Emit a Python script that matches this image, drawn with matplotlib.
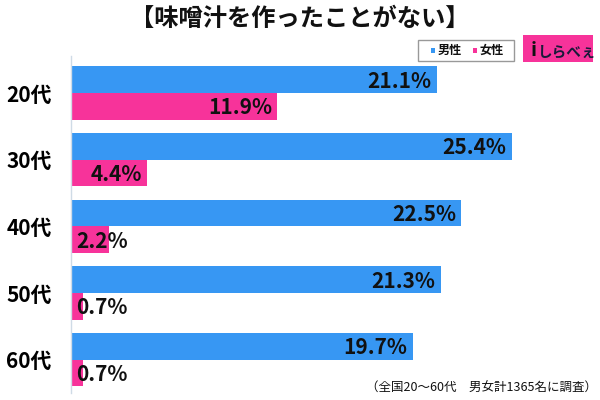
import matplotlib
matplotlib.use("Agg")
import matplotlib.pyplot as plt
from matplotlib.patches import Rectangle

plt.rcParams['font.family'] = ['Noto Sans CJK JP', 'DejaVu Sans']

title = "【味噌汁を作ったことがない】"
categories = ["20代", "30代", "40代", "50代", "60代"]
series_names = ["男性", "女性"]
male = [21.1, 25.4, 22.5, 21.3, 19.7]
female = [11.9, 4.4, 2.2, 0.7, 0.7]
footnote = "（全国20～60代　男女計1365名に調査）"
logo_text = "しらべぇ"

BLUE = "#3797F3"
PINK = "#F7339A"

fig = plt.figure(figsize=(6, 4), dpi=100)
W, H = 600, 400

def fx(px):
    return px / W

def fy(py):
    return 1 - py / H

ax = fig.add_axes([fx(71), fy(393), 520.5 / W, 337 / H])
ypos = list(range(len(categories)))
bh = 0.4
ax.barh([y - 0.2 for y in ypos], male, height=bh, color=BLUE, zorder=2)
ax.barh([y + 0.2 for y in ypos], female, height=bh, color=PINK, zorder=2)
ax.set_xlim(0, 30)
ax.set_ylim(4.5, -0.555)

for y, v in zip(ypos, male):
    ax.annotate(f"{v}%", (v, y - 0.2), xytext=(-4, -1), textcoords="offset points",
                ha="right", va="center", fontsize=15, fontweight="bold", color="#111111", zorder=3)
for y, v in zip(ypos, female):
    if v >= 3:
        ax.annotate(f"{v}%", (v, y + 0.2), xytext=(-4, -1), textcoords="offset points",
                    ha="right", va="center", fontsize=15, fontweight="bold", color="#111111", zorder=3)
    else:
        ax.annotate(f"{v}%", (0, y + 0.2), xytext=(3.5, -1), textcoords="offset points",
                    ha="left", va="center", fontsize=15, fontweight="bold", color="#111111", zorder=3)

ax.set_yticks(ypos)
ax.set_yticklabels(categories, fontsize=15, fontweight="bold")
ax.tick_params(axis="y", length=0, pad=14)
ax.set_xticks([])
for s in ["top", "right", "bottom"]:
    ax.spines[s].set_visible(False)
ax.spines["left"].set_color("#cfdbe6")
ax.spines["left"].set_linewidth(1.0)

fig.text(0.5, fy(19), title, ha="center", va="center", fontsize=17.5, fontweight="bold", color="#111111")

# legend box
fig.patches.append(Rectangle((fx(418), fy(61)), 96 / W, 21 / H, transform=fig.transFigure,
                             facecolor="white", edgecolor="#999999", linewidth=1.0))
for sx, tx, col, name in [(431, 438, BLUE, series_names[0]), (473, 480, PINK, series_names[1])]:
    fig.patches.append(Rectangle((fx(sx), fy(52.5)), 4.5 / W, 4.5 / H, transform=fig.transFigure,
                                 facecolor=col, edgecolor="none"))
    fig.text(fx(tx), fy(50.5), name, ha="left", va="center", fontsize=8.7, fontweight="bold", color="#111111")

# logo
fig.patches.append(Rectangle((fx(523), fy(62)), 70 / W, 27 / H, transform=fig.transFigure,
                             facecolor=PINK, edgecolor="none"))
fig.text(fx(534), fy(51), "i", ha="center", va="center", fontsize=14, fontweight="bold", color="#111111")
fig.text(fx(567), fy(52), logo_text, ha="center", va="center", fontsize=10.5, fontweight="bold", color="#1a1a3a")

fig.text(fx(597), fy(388), footnote, ha="right", va="center", fontsize=9, color="#111111")

fig.savefig("out.png", dpi=100)
